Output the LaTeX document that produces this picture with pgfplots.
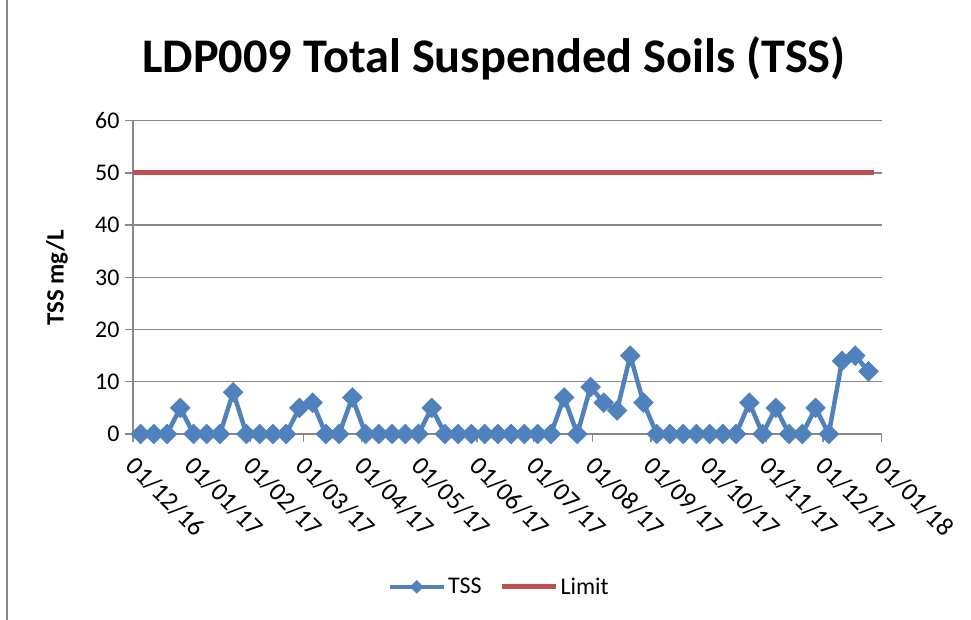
\documentclass[border=0pt]{standalone}
\usepackage{pgfplots}
\pgfplotsset{compat=1.18}
\usepackage{fontspec}
\setmainfont{Carlito}
\definecolor{tssblue}{HTML}{4F81BD}
\definecolor{limred}{HTML}{C0504D}
\definecolor{gridgray}{HTML}{888888}
\begin{document}
\begin{tikzpicture}[x=1bp,y=1bp]
\useasboundingbox (0,0) rectangle (971,620);
\draw[gridgray, line width=2bp] (7,0) -- (7,620);
\node[anchor=base, font=\fontsize{48.5}{54}\selectfont\bfseries] at (494,547) {LDP009 Total Suspended Soils (TSS)};
\node[rotate=90, font=\fontsize{25}{29}\selectfont\bfseries] at (57,342) {TSS mg/L};
\begin{axis}[
  at={(133bp,186bp)}, anchor=south west,
  scale only axis, width=748.7bp, height=313.3bp,
  xmin=0, xmax=396, ymin=0, ymax=60,
  axis x line*=bottom, axis y line*=left,
  axis line style={gridgray, line width=1.3bp},
  ytick={0,10,...,60},
  ymajorgrids, grid style={gridgray, line width=1.3bp},
  xtick={0,31,62,90,121,151,182,212,243,274,304,335,365,396},
  xticklabels={01/12/16,01/01/17,01/02/17,01/03/17,01/04/17,01/05/17,01/06/17,01/07/17,01/08/17,01/09/17,01/10/17,01/11/17,01/12/17,01/01/18},
  tick align=outside, major tick length=8bp,
  tick style={gridgray, line width=1.3bp},
  /pgf/number format/assume math mode=true,
  ticklabel style={font=\fontsize{24}{28}\selectfont, text=black},
  yticklabel style={xshift=-2bp},
  xticklabel style={font=\fontsize{26}{30}\selectfont, xshift=4.5bp, yshift=-10bp, rotate=-45, anchor=north west, inner sep=2bp},
  legend columns=2,
  legend style={draw=none, at={(0.489,-0.488)}, anchor=center, font=\fontsize{24}{28}\selectfont,
    /tikz/every even column/.append style={column sep=16bp}},
  legend image code/.code={\draw[mark repeat=2,mark phase=2] plot coordinates {(0bp,0bp) (27bp,0bp) (54bp,0bp)};},
  legend image post style={mark size=4.5bp},
]
\addplot[tssblue, line width=4.5bp, mark=square*, mark size=7bp, mark options={rotate=45, line width=0.5bp, fill=tssblue}] coordinates {
(4,0) (11,0) (18,0) (25,5) (32,0) (39,0) (46,0) (53,8) (60,0) (67,0)
(74,0) (81,0) (88,5) (95,6) (102,0) (109,0) (116,7) (123,0) (130,0) (137,0)
(144,0) (151,0) (158,5) (165,0) (172,0) (179,0) (186,0) (193,0) (200,0) (207,0)
(214,0) (221,0) (228,7) (235,0) (242,9) (249,6) (256,4.5) (263,15) (270,6) (277,0)
(284,0) (291,0) (298,0) (305,0) (312,0) (319,0) (326,6) (333,0) (340,5) (347,0)
(354,0) (361,5) (368,0) (375,14) (382,15) (389,12)
};
\addlegendentry{TSS}
\addplot[limred, line width=5bp] coordinates {(0,50) (392,50)};
\addlegendentry{Limit}
\end{axis}
\end{tikzpicture}
\end{document}
